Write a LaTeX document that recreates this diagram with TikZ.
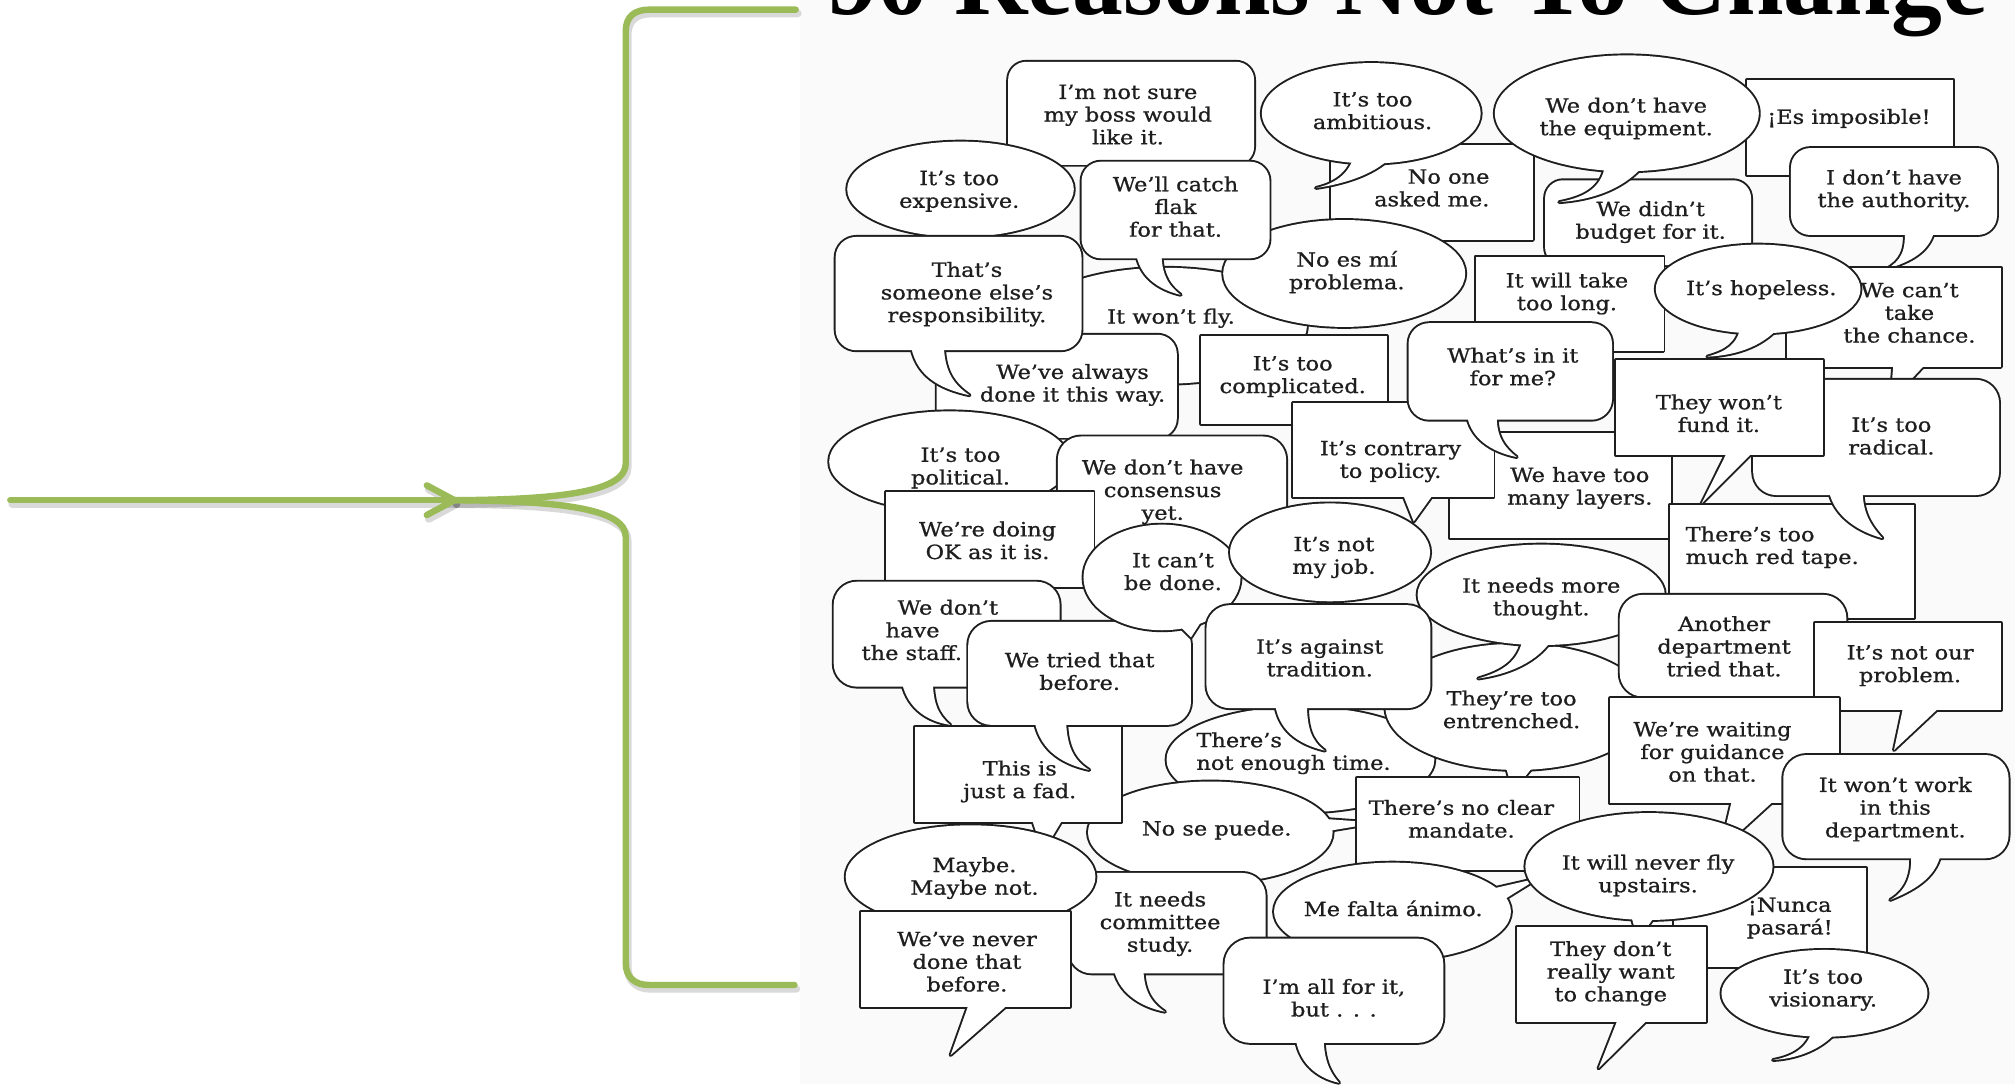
\documentclass[tikz,border=0pt]{standalone}
\usepackage{fontspec}
\setmainfont{DejaVu Serif}
\newfontfamily\bubfont[FakeStretch=1.15,FakeBold=0.9]{DejaVu Serif}
\newfontfamily\titlefont{Liberation Serif}
\definecolor{brace}{HTML}{9BBB59}
\definecolor{ink}{HTML}{1E1E1E}
\definecolor{paper}{HTML}{FAFAFA}
\tikzset{
  outl/.style={draw=ink, line width=3pt, line join=round},
  txt/.style={font=\bubfont\fontsize{15.2}{17.6}\selectfont, align=center, inner sep=0pt, text=ink},
  bracepath/.style={draw=brace, line width=5pt, line cap=round, line join=round},
  braceshadow/.style={draw=black, opacity=0.15, line width=6pt, line cap=round, line join=round},
}
\newcommand\bub[2]{\draw[outl] #1; \draw[outl] #2; \fill[white] #1; \fill[white] #2;}
\newcommand\bubo[1]{\draw[outl] #1; \fill[white] #1;}
\begin{document}
\begin{tikzpicture}[x=1pt,y=-1pt]
\useasboundingbox (0,0) rectangle (1565,842);
\fill[white] (0,0) rectangle (1565,842);
\fill[paper] (621,0) rectangle (1565,842);
% title (cut by the page edge)
\node[anchor=base, inner sep=0pt, text=black] (title) at (1093,11.5) {\titlefont\bfseries\fontsize{79}{79}\selectfont 90 Reasons Not To Change};
% green arrow and brace
\begin{scope}[shift={(1.5,3)}]
\draw[braceshadow] (8,388.5) -- (353,388.5);
\draw[braceshadow] (331.5,377) -- (353,388.5) -- (331.5,400);
\draw[braceshadow] (353,388.5) .. controls (440,388) and (486,381) .. (486,360) -- (486,24) .. controls (486,13) and (493,7.5) .. (504,7.5) -- (618,7.5);
\draw[braceshadow] (353,388.5) .. controls (440,389) and (486,396) .. (486,417) -- (486,748) .. controls (486,759) and (493,765) .. (504,765) -- (617,765);
\end{scope}
\coordinate (arrowstart) at (8,388.5);
\coordinate (bracetip) at (353,388.5);
\coordinate (armup) at (331.5,377);
\coordinate (armdown) at (331.5,400);
\coordinate (bracetop) at (618,7.5);
\coordinate (bracebot) at (617,765);
\draw[bracepath] (arrowstart) -- (bracetip);
\draw[bracepath] (armup) -- (bracetip) -- (armdown);
\draw[bracepath] (bracetip) .. controls (440,388) and (486,381) .. (486,360) -- (486,24) .. controls (486,13) and (493,7.5) .. (504,7.5) -- (bracetop);
\draw[bracepath] (bracetip) .. controls (440,389) and (486,396) .. (486,417) -- (486,748) .. controls (486,759) and (493,765) .. (504,765) -- (bracebot);

% ---- speech bubbles, back to front ----
\bubo{(905,253) ellipse [x radius=110, y radius=45]}
\node[txt] (wontfly) at (909.5,247.2) {It won’t fly.};

\bubo{[rounded corners=14pt] (783,48) rectangle (974,128)}
\node[txt] (notsure) at (876,89) {I’m not sure\\my boss would\\like it.};

\bubo{(1034,112.6) rectangle (1190.6,186.4)}
\node[txt, align=right, anchor=east] (noone) at (1157,146) {No one\\asked me.};

\bub{(1065,88) ellipse [x radius=85, y radius=39]}{(1052,118) .. controls (1050,132) and (1040,142) .. (1022,146) .. controls (1050,142) and (1075,132) .. (1085,116) -- cycle}
\node[txt] (ambitious) at (1066,86) {It’s too\\ambitious.};

\bubo{[rounded corners=14pt] (1200,140) rectangle (1360,206)}
\node[txt] (budget) at (1282,172.5) {We didn’t\\budget for it.};

\bubo{(1357,62) rectangle (1517,136)}
\node[txt] (imposible) at (1436,92) {¡Es imposible!};

\bub{(1263.5,88) ellipse [x radius=102.5, y radius=45]}{(1247,124) .. controls (1246,145) and (1232,153) .. (1211,157) .. controls (1240,155) and (1265,145) .. (1280,124) -- cycle}
\node[txt] (equipment) at (1263,92) {We don’t have\\the equipment.};

\bub{[rounded corners=15pt] (1391,115) rectangle (1551,182.5)}{(1479,176) .. controls (1481,195) and (1476,203) .. (1465,209) .. controls (1485,203) and (1500,195) .. (1503,176) -- cycle}
\node[txt] (authority) at (1471,148) {I don’t have\\the authority.};

\bub{(1388,208) rectangle (1554,285)}{(1471,278) -- (1468,312) -- (1500,278) -- cycle}
\node[txt] (chance) at (1483,243) {We can’t\\take\\the chance.};

\bubo{(1146,199.4) rectangle (1292,273)}
\node[txt] (takelong) at (1217,228) {It will take\\too long.};

\bub{(1365.5,224.5) ellipse [x radius=79.5, y radius=34.5]}{(1352,252) .. controls (1350,268) and (1340,273) .. (1326,277) .. controls (1350,276) and (1372,268) .. (1385,250) -- cycle}
\node[txt] (hopeless) at (1368,225) {It’s hopeless.};

\bubo{(746,147) ellipse [x radius=88, y radius=37]}
\node[txt] (expensive) at (745,148.6) {It’s too\\expensive.};

\bubo{(1044,212.4) ellipse [x radius=94, y radius=41.5]}
\node[txt] (noesmi) at (1046,211.3) {No es mí\\problema.};

\bub{[rounded corners=15pt] (840,125.6) rectangle (986,200.6)}{(882,194) .. controls (884,215) and (900,225) .. (917,229) .. controls (905,220) and (902,210) .. (902,194) -- cycle}
\node[txt] (flak) at (913,160.5) {We’ll catch\\flak\\for that.};

\bubo{[rounded corners=15pt] (727.5,260) rectangle (914,340)}
\node[txt] (always) at (833,299) {We’ve always\\done it this way.};

\bub{[rounded corners=16pt] (649,184) rectangle (840,272)}{(707,265) .. controls (710,292) and (730,302) .. (753,307) .. controls (740,298) and (733,288) .. (733,265) -- cycle}
\node[txt] (someone) at (751,228.5) {That’s\\someone else’s\\responsibility.};

\bubo{(933,261) rectangle (1077,329)}
\node[txt] (complicated) at (1004,292.5) {It’s too\\complicated.};

\bubo{(1126,336) rectangle (1298,418)}
\node[txt] (layers) at (1227,379) {We have too\\many layers.};

\bub{(1004.5,313) rectangle (1160,386)}{(1088,380) -- (1098,405) -- (1116,380) -- cycle}
\node[txt] (contrary) at (1080,358.5) {It’s contrary\\to policy.};

\bub{[rounded corners=16pt] (1094,251) rectangle (1252,326)}{(1139,320) .. controls (1141,340) and (1158,351) .. (1178,355) .. controls (1165,345) and (1162,335) .. (1162.5,320) -- cycle}
\node[txt] (whatsin) at (1175,284.7) {What’s in it\\for me?};

\bubo{(1297,392) rectangle (1486.5,480)}
\node[txt, align=left, anchor=west] (redtape) at (1309,425) {There’s too\\much red tape.};

\bub{[rounded corners=18pt] (1361.6,295) rectangle (1552.6,384.5)}{(1420,378) .. controls (1422,398) and (1440,412) .. (1462,418) .. controls (1450,405) and (1446.5,395) .. (1446.5,378) -- cycle}
\node[txt] (radical) at (1469,338.7) {It’s too\\radical.};

\bub{(1255,279.6) rectangle (1415.6,353.4)}{(1343,348) -- (1321.6,391) -- (1364.7,348) -- cycle}
\node[txt] (fund) at (1335,321) {They won’t\\fund it.};

\bubo{(737.5,358.5) ellipse [x radius=93.5, y radius=39]}
\node[txt] (political) at (746,363.5) {It’s too\\political.};

\bubo{[rounded corners=18pt] (821.6,339) rectangle (998.9,432)}
\node[txt] (consensus) at (903,382) {We don’t have\\consensus\\yet.};

\bubo{(688.4,382) rectangle (849.3,455.7)}
\node[txt] (okasitis) at (767,419.7) {We’re doing\\OK as it is.};

\bubo{(1010,590) ellipse [x radius=104, y radius=41]}
\node[txt, align=left, anchor=west] (notime) at (929,585) {There’s\\not enough time.};

\bub{(940,646.5) ellipse [x radius=95, y radius=39.5]}{(1028,636) -- (1070,639) -- (1028,646) -- cycle}
\node[txt] (nosepuede) at (945,644.7) {No se puede.};

\bub{(710.6,564.4) rectangle (871,638.2)}{(800,632) -- (810,662) -- (828,632) -- cycle}
\node[txt] (fad) at (792,607) {This is\\just a fad.};

\bub{[rounded corners=18pt] (647.5,451.8) rectangle (823,533.3)}{(700,527) .. controls (703,548) and (718,560) .. (738,563) .. controls (728,555) and (724.5,545) .. (724.5,527) -- cycle}
\node[txt, align=left, anchor=west] (staff) at (669,489.3) {\hspace*{28pt}We don’t\\\hspace*{18.6pt}have\\the staff.};

\bub{[rounded corners=18pt] (752,483) rectangle (925,563)}{(803,557) .. controls (806,580) and (822,593) .. (846,598) .. controls (833,590) and (828,578) .. (828,557) -- cycle}
\node[txt] (triedthat) at (838.5,521.3) {We tried that\\before.};

\bub{(902.5,448.5) ellipse [x radius=61, y radius=41]}{(912,482) -- (925,495) -- (936,478) -- cycle}
\node[txt] (cantbedone) at (911,444) {It can’t\\be done.};

\bubo{(1033,429) ellipse [x radius=77.7, y radius=38]}
\node[txt] (notmyjob) at (1036,433) {It’s not\\my job.};

\bub{(1178,549) ellipse [x radius=102, y radius=49]}{(1168,590) -- (1175,615) -- (1195,590) -- cycle}
\node[txt] (entrenched) at (1174,551) {They’re too\\entrenched.};

\bub{(1197,462) ellipse [x radius=96, y radius=39]}{(1183,494) .. controls (1180,515) and (1165,522) .. (1148,527) .. controls (1170,524) and (1195,515) .. (1207,494) -- cycle}
\node[txt] (thought) at (1197,465) {It needs more\\thought.};

\bub{[rounded corners=18pt] (937,470) rectangle (1111,550)}{(990,544) .. controls (992,567) and (1008,578) .. (1029,583) .. controls (1018,575) and (1015,565) .. (1015,544) -- cycle}
\node[txt] (tradition) at (1025,511) {It’s against\\tradition.};

\bubo{[rounded corners=18pt] (1258,462) rectangle (1434,541)}
\node[txt] (another) at (1339,502) {Another\\department\\tried that.};

\bub{(1409.5,484) rectangle (1554,551.5)}{(1479,545) -- (1471,582.5) -- (1511,545) -- cycle}
\node[txt] (notours) at (1483.5,517) {It’s not our\\problem.};

\bub{(1250.7,542.4) rectangle (1428,624)}{(1346,618) -- (1336,660) -- (1382,618) -- cycle}
\node[txt] (waiting) at (1330,584) {We’re waiting\\for guidance\\on that.};

\bub{[rounded corners=18pt] (1385,586.4) rectangle (1560,666.6)}{(1484,660) .. controls (1486,680) and (1480,692) .. (1468,699) .. controls (1490,690) and (1505,680) .. (1508,660) -- cycle}
\node[txt] (wontwork) at (1472,628.5) {It won’t work\\in this\\department.};

\bubo{(1053.7,604.5) rectangle (1226,676)}
\node[txt] (mandate) at (1135,636) {There’s no clear\\mandate.};

\bub{[rounded corners=18pt] (830,678) rectangle (983,756)}{(864.7,750) .. controls (867,770) and (885,782) .. (904.8,785.8) .. controls (893,778) and (888,768) .. (888,750) -- cycle}
\node[txt] (committee) at (901,717.5) {It needs\\committee\\study.};

\bubo{(753.8,681) ellipse [x radius=97, y radius=40]}
\node[txt] (maybe) at (756.8,682) {Maybe.\\Maybe not.};

\bub{(669,708) rectangle (830.8,782)}{(753.8,776) -- (738.3,819.4) -- (787.7,776) -- cycle}
\node[txt] (never) at (751,747) {We’ve never\\done that\\before.};

\bub{(1081.5,708) ellipse [x radius=92, y radius=38]}{(1160,690) -- (1195,682) -- (1166,700) -- cycle}
\node[txt] (mefalta) at (1082,705.5) {Me falta ánimo.};

\bub{[rounded corners=20pt] (951,729) rectangle (1121,810)}{(1006,804) .. controls (1008,825) and (1022,837) .. (1040,841) .. controls (1032,832) and (1028,822) .. (1028,804) -- cycle}
\node[txt] (allforit) at (1036,775) {I’m all for it,\\but . . .};

\bubo{(1300,674.4) rectangle (1449.5,751)}
\node[txt] (nunca) at (1390,713) {¡Nunca\\pasará!};

\bub{(1280.7,673) ellipse [x radius=96, y radius=41.5]}{(1266,708) -- (1272,730) -- (1288,708) -- cycle}
\node[txt] (fly) at (1280,680) {It will never fly\\upstairs.};

\bub{(1178.3,719.7) rectangle (1324.7,793.5)}{(1258.3,787) -- (1241.5,829.8) -- (1284.7,787) -- cycle}
\node[txt] (theydont) at (1251,756) {They don’t\\really want\\to change};

\bub{(1417,771.5) ellipse [x radius=80, y radius=33.7]}{(1408,798) .. controls (1405,812) and (1395,820) .. (1377,823.3) .. controls (1400,822) and (1420,812) .. (1429.5,797) -- cycle}
\node[txt] (visionary) at (1416,769) {It’s too\\visionary.};
\end{tikzpicture}
\end{document}
